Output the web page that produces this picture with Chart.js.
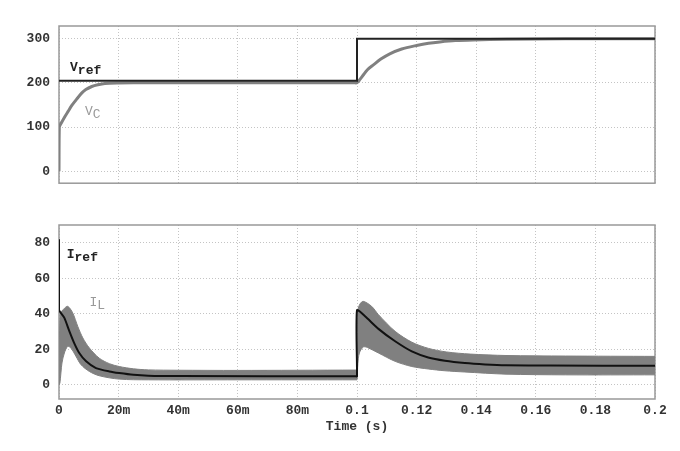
<!DOCTYPE html>
<html>
<head>
<meta charset="utf-8">
<script src="https://cdn.jsdelivr.net/npm/chart.js@4.4.1/dist/chart.umd.min.js"></script>
<style>
  html, body { margin: 0; padding: 0; background: #fff; }
  #wrap { position: relative; width: 680px; height: 451px; }
  #topChart { position: absolute; left: 0; top: 0; }
  #botChart { position: absolute; left: 0; top: 200px; }
</style>
</head>
<body>
<div id="wrap">
  <canvas id="topChart" width="680" height="200"></canvas>
  <canvas id="botChart" width="680" height="251"></canvas>
</div>
<script>
// time in ms
const xTicks = [0, 20, 40, 60, 80, 100, 120, 140, 160, 180, 200];
const xTickLabels = ['0', '20m', '40m', '60m', '80m', '0.1', '0.12', '0.14', '0.16', '0.18', '0.2'];
const vTicks = [0, 100, 200, 300];
const iTicks = [0, 20, 40, 60, 80];

const vRef = [[0, 205], [100, 205], [100, 300], [200, 300]];
const vC = [[0, 0], [0.1, 100], [1, 112], [2, 124], [3, 135], [4.3, 149], [6, 164], [7.6, 177], [9, 185],
  [11, 192], [13, 196], [15.4, 199], [20, 200], [30, 200.5], [99, 200.5], [100, 200.5],
  [101, 208], [102.1, 218], [103.5, 230], [105.5, 241], [108, 254], [111, 266], [115, 277], [120, 285],
  [124, 290], [127.8, 293], [133, 296], [139, 297.5], [150, 299], [170, 300], [200, 300]];

const iRef = [[0, 82], [0, 42.4], [1.8, 37.7], [3.5, 30.1], [5.1, 23.5], [6.8, 17.9], [9.1, 13.2],
  [12.4, 9.4], [16.9, 7.5], [20.2, 6.6], [25, 5.6], [30, 5.1], [40, 4.9], [99.5, 4.8], [100, 4.8],
  [100, 42], [102.7, 38.6], [107.2, 31.5], [112.8, 24.5], [118.4, 18.8], [123.9, 15.4], [129.5, 13.6],
  [136.2, 12.3], [143, 11.5], [150, 11], [165, 10.8], [200, 10.7]];

const iLUpper = [[0, 0], [0.4, 40], [1.5, 42.5], [2.9, 44.2], [4.6, 40.5], [6.3, 32.9], [8, 26.4],
  [10.2, 20.7], [13.5, 15], [16.9, 11.9], [20.2, 10.3], [25, 9], [30, 8.4], [40, 8.2], [60, 8.1],
  [99.7, 8.3], [100, 8.3],
  [100.3, 42], [101, 45.5], [102.1, 47], [104.9, 44.2], [107.2, 39.5], [112.8, 30.1], [118.4, 24],
  [124, 20.5], [130, 18.5], [138, 17.3], [150, 16.5], [170, 16.2], [200, 16]];

const iLLower = [[0, 0], [0.3, 1], [1, 12.3], [1.8, 17.9], [2.9, 21.6], [4, 20.7], [5.7, 16], [7.4, 11.3],
  [10.2, 7.5], [13.5, 5.1], [20.2, 3.2], [30, 2.8], [60, 2.8], [99.7, 2.8], [100, 2.8],
  [100.3, 12], [100.8, 17.9], [102.1, 21.3], [103.5, 21], [107.2, 17.9], [112.8, 13.2], [118.4, 10.3],
  [123.9, 8.9], [129.5, 7.9], [136.2, 7.2], [150, 6], [170, 5.6], [200, 5.6]];

const curveLabels = {
  top: [
    { x: 3.7, y: 227, main: 'V', sub: 'ref', color: '#222', weight: 'bold' },
    { x: 8.7, y: 127, main: 'V', sub: 'C', color: '#999', weight: 'normal' }
  ],
  bot: [
    { x: 2.6, y: 71.6, main: 'I', sub: 'ref', color: '#222', weight: 'bold' },
    { x: 10.2, y: 44.2, main: 'I', sub: 'L', color: '#999', weight: 'normal' }
  ]
};

const pts = arr => arr.map(p => ({ x: p[0], y: p[1] }));
const tickFont = { family: 'Liberation Mono', size: 13, weight: 'bold' };

// grey box round the plot area, under the curves
const framePlugin = {
  id: 'frame',
  beforeDatasetsDraw(chart) {
    const a = chart.chartArea, ctx = chart.ctx;
    ctx.save();
    ctx.strokeStyle = '#999';
    ctx.lineWidth = 1.5;
    ctx.strokeRect(a.left, a.top, a.right - a.left, a.bottom - a.top);
    ctx.restore();
  }
};

const labelPlugin = {
  id: 'curveLabels',
  afterDatasetsDraw(chart, args, opts) {
    const ctx = chart.ctx;
    const xs = chart.scales.x, ys = chart.scales.y;
    ctx.save();
    ctx.textBaseline = 'alphabetic';
    ctx.textAlign = 'left';
    (opts.items || []).forEach(l => {
      const px = xs.getPixelForValue(l.x), py = ys.getPixelForValue(l.y);
      ctx.fillStyle = l.color;
      ctx.font = l.weight + ' 13px "Liberation Mono"';
      ctx.fillText(l.main, px, py);
      const w = ctx.measureText(l.main).width;
      ctx.fillText(l.sub, px + w, py + 3);
    });
    ctx.restore();
  }
};

function xScale(showTicks) {
  return {
    type: 'linear', min: 0, max: 200,
    afterBuildTicks: s => { s.ticks = xTicks.map(v => ({ value: v })); },
    afterFit: s => { s.height = showTicks ? 52 : 0; },
    ticks: {
      display: showTicks, font: tickFont, color: '#333', padding: 4, maxRotation: 0,
      callback: v => xTickLabels[xTicks.indexOf(v)]
    },
    grid: { color: '#c4c4c4', drawTicks: false },
    border: { display: false, dash: [1, 2] },
    title: {
      display: showTicks, text: 'Time (s)', font: tickFont, color: '#333',
      padding: { top: 0, bottom: 16 }
    }
  };
}

function yScale(min, max, ticks) {
  return {
    min: min, max: max,
    afterBuildTicks: s => { s.ticks = ticks.map(v => ({ value: v })); },
    afterFit: s => { s.width = 59; },
    ticks: { font: tickFont, color: '#333', padding: 9 },
    grid: { color: '#c4c4c4', drawTicks: false },
    border: { display: false, dash: [1, 2] }
  };
}

new Chart(document.getElementById('topChart'), {
  type: 'line',
  data: {
    datasets: [
      { label: 'Vref', data: pts(vRef), borderColor: '#222', borderWidth: 2, tension: 0 },
      { label: 'Vc', data: pts(vC), borderColor: '#808080', borderWidth: 3, tension: 0.3 }
    ]
  },
  options: {
    responsive: false, animation: false,
    layout: { padding: { top: 26, right: 25, bottom: 8, left: 0 } },
    elements: { point: { radius: 0 } },
    plugins: { legend: { display: false }, tooltip: { enabled: false }, curveLabels: { items: curveLabels.top } },
    scales: { x: xScale(false), y: yScale(-27, 329, vTicks) }
  },
  plugins: [framePlugin, labelPlugin]
});

new Chart(document.getElementById('botChart'), {
  type: 'line',
  data: {
    datasets: [
      { label: 'Iref', data: pts(iRef), borderColor: '#111', borderWidth: 2, tension: 0.2 },
      { label: 'IL max', data: pts(iLUpper), borderColor: '#808080', borderWidth: 1, tension: 0.3, fill: false },
      { label: 'IL min', data: pts(iLLower), borderColor: '#808080', borderWidth: 1, tension: 0.3,
        fill: '-1', backgroundColor: '#808080' }
    ]
  },
  options: {
    responsive: false, animation: false,
    layout: { padding: { top: 25, right: 25, bottom: 0, left: 0 } },
    elements: { point: { radius: 0 } },
    plugins: { legend: { display: false }, tooltip: { enabled: false }, curveLabels: { items: curveLabels.bot } },
    scales: { x: xScale(true), y: yScale(-8, 90, iTicks) }
  },
  plugins: [framePlugin, labelPlugin]
});
</script>
</body>
</html>
